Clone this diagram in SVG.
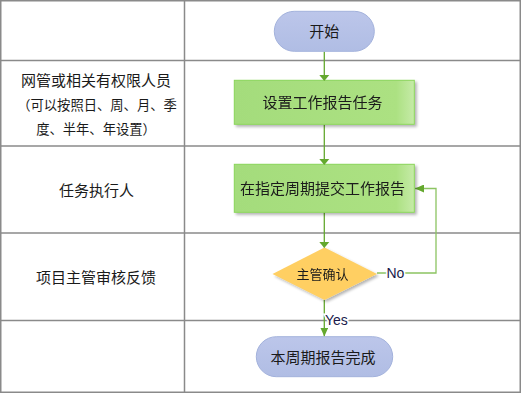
<svg xmlns="http://www.w3.org/2000/svg" width="521" height="393" viewBox="0 0 521 393">
<defs>
<style>
.grid{fill:none;stroke:#8a8a8a;stroke-width:1.5}
.t{font-family:"Liberation Sans","Noto Sans CJK SC",sans-serif;fill:#1a1a1a;text-anchor:middle;dominant-baseline:central}
.pill{fill:url(#gb);stroke:#a3b2dc;stroke-width:1}
.box{fill:url(#gg);stroke:#8ad55a;stroke-width:1}
.dia{fill:#ffcf62}
.con{fill:none;stroke:#64a82e;stroke-width:1.3}
.con2{fill:none;stroke:#8cc462;stroke-width:1.3}
.lbl{font-family:"Liberation Sans",sans-serif;fill:#1a1a4a;font-size:14px;dominant-baseline:central}
</style>
<linearGradient id="gb" x1="0" y1="0" x2="0" y2="1">
<stop offset="0" stop-color="#bcc6ea"/><stop offset="1" stop-color="#b0bde4"/>
</linearGradient>
<linearGradient id="gg" x1="0" y1="0" x2="1" y2="0">
<stop offset="0" stop-color="#a4dc7c"/><stop offset="0.9" stop-color="#ace182"/><stop offset="1" stop-color="#c6eba8"/>
</linearGradient>
<filter id="sh" x="-10%" y="-10%" width="125%" height="135%">
<feGaussianBlur in="SourceAlpha" stdDeviation="1.5"/>
<feOffset dx="2" dy="2"/>
<feComponentTransfer><feFuncA type="linear" slope="0.3"/></feComponentTransfer>
<feMerge><feMergeNode/><feMergeNode in="SourceGraphic"/></feMerge>
</filter>
<marker id="ah" markerWidth="10" markerHeight="8" refX="9" refY="4" orient="auto" markerUnits="userSpaceOnUse">
<path d="M0,0 L9,4 L0,8 Z" fill="#64a82e"/>
</marker>
</defs>
<rect width="521" height="393" fill="#ffffff"/>
<g id="grid">
<rect class="grid" x="0.75" y="0.75" width="519.5" height="391.5"/>
<line class="grid" x1="184.5" y1="0" x2="184.5" y2="393"/>
<line class="grid" x1="0" y1="60.5" x2="521" y2="60.5"/>
<line class="grid" x1="0" y1="146" x2="521" y2="146"/>
<line class="grid" x1="0" y1="233" x2="521" y2="233"/>
<line class="grid" x1="0" y1="320.5" x2="521" y2="320.5"/>
</g>
<g id="lanes">
<text class="t" x="96" y="80" font-size="15">网管或相关有权限人员</text>
<text class="t" x="97" y="105" font-size="13.3">（可以按照日、周、月、季</text>
<text class="t" x="96" y="129" font-size="13.3">度、半年、年设置）</text>
<text class="t" x="96.5" y="190.5" font-size="15">任务执行人</text>
<text class="t" x="96" y="277" font-size="15">项目主管审核反馈</text>
</g>
<g id="connectors">
<line class="con" x1="324.3" y1="51.5" x2="324.3" y2="80"/>
<line class="con" x1="324.3" y1="124.5" x2="324.3" y2="164"/>
<line class="con" x1="324.3" y1="212.5" x2="324.3" y2="247.5"/>
<polyline class="con2" points="377,273 436,273 436,188.5 415,188.5" marker-end="url(#ah)"/>
<line class="con" x1="324.3" y1="300" x2="324.3" y2="336.5" marker-end="url(#ah)"/>
<text class="lbl" x="386.5" y="272.5" style="paint-order:stroke;stroke:#fff;stroke-width:3">No</text>
<text class="lbl" x="325" y="320" style="paint-order:stroke;stroke:#fff;stroke-width:3">Yes</text>
</g>
<g id="start">
<rect class="pill" x="274.3" y="11.3" width="100" height="40" rx="20" ry="20"/>
<text class="t" x="324.3" y="31.5" font-size="15">开始</text>
</g>
<g id="setTask" filter="url(#sh)">
<rect class="box" x="234.3" y="80.3" width="180" height="44"/>
<text class="t" x="322.5" y="102.5" font-size="15">设置工作报告任务</text>
</g>
<g id="submit" filter="url(#sh)">
<rect class="box" x="234.3" y="164.3" width="180" height="48"/>
<text class="t" x="322.5" y="188.5" font-size="15">在指定周期提交工作报告</text>
</g>
<g id="confirm" filter="url(#sh)">
<polygon class="dia" points="324.5,247.5 377,274 324.5,300 272.5,274"/>
<text class="t" x="322.5" y="274" font-size="13">主管确认</text>
</g>
<g id="end">
<rect class="pill" x="256.3" y="336.7" width="136.4" height="40" rx="20" ry="20"/>
<text class="t" x="323" y="357" font-size="15">本周期报告完成</text>
</g>
<path d="M319.3,75 L324.3,81 L329.3,75 Z" fill="#64a82e"/>
<path d="M319.3,159 L324.3,165 L329.3,159 Z" fill="#64a82e"/>
<path d="M319.3,242 L324.3,248 L329.3,242 Z" fill="#64a82e"/>
</svg>
